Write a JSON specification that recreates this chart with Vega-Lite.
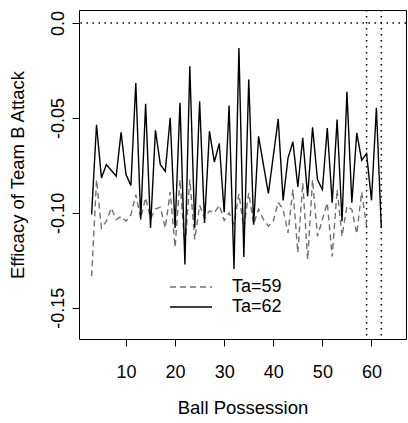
{
  "$schema": "https://vega.github.io/schema/vega-lite/v6.json",
  "width": 327,
  "height": 329,
  "autosize": {"type": "none"},
  "padding": {"left": 79, "top": 10, "right": 2, "bottom": 84},
  "background": "white",
  "config": {
    "view": {"stroke": "black", "strokeWidth": 1},
    "font": "Liberation Sans",
    "axis": {
      "domain": false, "grid": false, "tickColor": "black", "tickSize": 7, "tickWidth": 1,
      "labelFont": "Liberation Sans", "labelFontSize": 18, "labelColor": "black",
      "titleFont": "Liberation Sans", "titleFontSize": 18.5, "titleFontWeight": "normal", "titleColor": "black"
    }
  },
  "datasets": {
    "series": [
      {"x": 3, "y": -0.1334, "series": "Ta=59"}, {"x": 4, "y": -0.0825, "series": "Ta=59"}, {"x": 5, "y": -0.108, "series": "Ta=59"},
      {"x": 6, "y": -0.1044, "series": "Ta=59"}, {"x": 7, "y": -0.0974, "series": "Ta=59"}, {"x": 8, "y": -0.1035, "series": "Ta=59"},
      {"x": 9, "y": -0.1018, "series": "Ta=59"}, {"x": 10, "y": -0.1044, "series": "Ta=59"}, {"x": 11, "y": -0.101, "series": "Ta=59"},
      {"x": 12, "y": -0.0904, "series": "Ta=59"}, {"x": 13, "y": -0.103, "series": "Ta=59"}, {"x": 14, "y": -0.092, "series": "Ta=59"},
      {"x": 15, "y": -0.103, "series": "Ta=59"}, {"x": 16, "y": -0.098, "series": "Ta=59"}, {"x": 17, "y": -0.097, "series": "Ta=59"},
      {"x": 18, "y": -0.108, "series": "Ta=59"}, {"x": 19, "y": -0.089, "series": "Ta=59"}, {"x": 20, "y": -0.118, "series": "Ta=59"},
      {"x": 21, "y": -0.0825, "series": "Ta=59"}, {"x": 22, "y": -0.119, "series": "Ta=59"}, {"x": 23, "y": -0.0825, "series": "Ta=59"},
      {"x": 24, "y": -0.114, "series": "Ta=59"}, {"x": 25, "y": -0.096, "series": "Ta=59"}, {"x": 26, "y": -0.103, "series": "Ta=59"},
      {"x": 27, "y": -0.099, "series": "Ta=59"}, {"x": 28, "y": -0.1, "series": "Ta=59"}, {"x": 29, "y": -0.096, "series": "Ta=59"},
      {"x": 30, "y": -0.104, "series": "Ta=59"}, {"x": 31, "y": -0.1, "series": "Ta=59"}, {"x": 32, "y": -0.106, "series": "Ta=59"},
      {"x": 33, "y": -0.09, "series": "Ta=59"}, {"x": 34, "y": -0.108, "series": "Ta=59"}, {"x": 35, "y": -0.0895, "series": "Ta=59"},
      {"x": 36, "y": -0.106, "series": "Ta=59"}, {"x": 37, "y": -0.098, "series": "Ta=59"}, {"x": 38, "y": -0.1035, "series": "Ta=59"},
      {"x": 39, "y": -0.107, "series": "Ta=59"}, {"x": 40, "y": -0.1044, "series": "Ta=59"}, {"x": 41, "y": -0.0944, "series": "Ta=59"},
      {"x": 42, "y": -0.0982, "series": "Ta=59"}, {"x": 43, "y": -0.1105, "series": "Ta=59"}, {"x": 44, "y": -0.0877, "series": "Ta=59"},
      {"x": 45, "y": -0.121, "series": "Ta=59"}, {"x": 46, "y": -0.0842, "series": "Ta=59"}, {"x": 47, "y": -0.1246, "series": "Ta=59"},
      {"x": 48, "y": -0.0825, "series": "Ta=59"}, {"x": 49, "y": -0.1123, "series": "Ta=59"}, {"x": 50, "y": -0.1035, "series": "Ta=59"},
      {"x": 51, "y": -0.0947, "series": "Ta=59"}, {"x": 52, "y": -0.123, "series": "Ta=59"}, {"x": 53, "y": -0.0877, "series": "Ta=59"},
      {"x": 54, "y": -0.1123, "series": "Ta=59"}, {"x": 55, "y": -0.0965, "series": "Ta=59"}, {"x": 56, "y": -0.0982, "series": "Ta=59"},
      {"x": 57, "y": -0.111, "series": "Ta=59"}, {"x": 58, "y": -0.089, "series": "Ta=59"}, {"x": 59, "y": -0.107, "series": "Ta=59"},
      {"x": 3, "y": -0.1009, "series": "Ta=62"}, {"x": 4, "y": -0.0536, "series": "Ta=62"}, {"x": 5, "y": -0.0816, "series": "Ta=62"},
      {"x": 6, "y": -0.0746, "series": "Ta=62"}, {"x": 7, "y": -0.0776, "series": "Ta=62"}, {"x": 8, "y": -0.0807, "series": "Ta=62"},
      {"x": 9, "y": -0.0576, "series": "Ta=62"}, {"x": 10, "y": -0.0798, "series": "Ta=62"}, {"x": 11, "y": -0.0856, "series": "Ta=62"},
      {"x": 12, "y": -0.0316, "series": "Ta=62"}, {"x": 13, "y": -0.1035, "series": "Ta=62"}, {"x": 14, "y": -0.0426, "series": "Ta=62"},
      {"x": 15, "y": -0.108, "series": "Ta=62"}, {"x": 16, "y": -0.0565, "series": "Ta=62"}, {"x": 17, "y": -0.0746, "series": "Ta=62"},
      {"x": 18, "y": -0.0781, "series": "Ta=62"}, {"x": 19, "y": -0.05, "series": "Ta=62"}, {"x": 20, "y": -0.108, "series": "Ta=62"},
      {"x": 21, "y": -0.0421, "series": "Ta=62"}, {"x": 22, "y": -0.1272, "series": "Ta=62"}, {"x": 23, "y": -0.0228, "series": "Ta=62"},
      {"x": 24, "y": -0.1078, "series": "Ta=62"}, {"x": 25, "y": -0.0412, "series": "Ta=62"}, {"x": 26, "y": -0.1053, "series": "Ta=62"},
      {"x": 27, "y": -0.057, "series": "Ta=62"}, {"x": 28, "y": -0.0732, "series": "Ta=62"}, {"x": 29, "y": -0.0635, "series": "Ta=62"},
      {"x": 30, "y": -0.0997, "series": "Ta=62"}, {"x": 31, "y": -0.0435, "series": "Ta=62"}, {"x": 32, "y": -0.1295, "series": "Ta=62"},
      {"x": 33, "y": -0.0132, "series": "Ta=62"}, {"x": 34, "y": -0.1232, "series": "Ta=62"}, {"x": 35, "y": -0.0298, "series": "Ta=62"},
      {"x": 36, "y": -0.1062, "series": "Ta=62"}, {"x": 37, "y": -0.0597, "series": "Ta=62"}, {"x": 38, "y": -0.0747, "series": "Ta=62"},
      {"x": 39, "y": -0.0898, "series": "Ta=62"}, {"x": 40, "y": -0.0702, "series": "Ta=62"}, {"x": 41, "y": -0.0505, "series": "Ta=62"},
      {"x": 42, "y": -0.0934, "series": "Ta=62"}, {"x": 43, "y": -0.0711, "series": "Ta=62"}, {"x": 44, "y": -0.0626, "series": "Ta=62"},
      {"x": 45, "y": -0.0863, "series": "Ta=62"}, {"x": 46, "y": -0.0605, "series": "Ta=62"}, {"x": 47, "y": -0.0912, "series": "Ta=62"},
      {"x": 48, "y": -0.0549, "series": "Ta=62"}, {"x": 49, "y": -0.0825, "series": "Ta=62"}, {"x": 50, "y": -0.0877, "series": "Ta=62"},
      {"x": 51, "y": -0.0553, "series": "Ta=62"}, {"x": 52, "y": -0.0947, "series": "Ta=62"}, {"x": 53, "y": -0.0509, "series": "Ta=62"},
      {"x": 54, "y": -0.1044, "series": "Ta=62"}, {"x": 55, "y": -0.0363, "series": "Ta=62"}, {"x": 56, "y": -0.0947, "series": "Ta=62"},
      {"x": 57, "y": -0.0579, "series": "Ta=62"}, {"x": 58, "y": -0.0723, "series": "Ta=62"}, {"x": 59, "y": -0.0688, "series": "Ta=62"},
      {"x": 60, "y": -0.0934, "series": "Ta=62"}, {"x": 61, "y": -0.0447, "series": "Ta=62"}, {"x": 62, "y": -0.108, "series": "Ta=62"}
    ],
    "hlines": [{"y": 0}],
    "vlines": [{"x": 59}, {"x": 62}]
  },
  "layer": [
    {
      "data": {"name": "hlines"},
      "mark": {"type": "rule", "color": "black", "strokeWidth": 1.5, "strokeDash": [1.5, 4.5]},
      "encoding": {
        "y": {"field": "y", "type": "quantitative", "scale": {"domain": [-0.1664, 0.0068], "nice": false, "zero": false}}
      }
    },
    {
      "data": {"name": "vlines"},
      "mark": {"type": "rule", "color": "black", "strokeWidth": 1.5, "strokeDash": [1.5, 4.5]},
      "encoding": {
        "x": {"field": "x", "type": "quantitative", "scale": {"domain": [0.43, 67.03], "nice": false, "zero": false}}
      }
    },
    {
      "data": {"name": "series"},
      "mark": {"type": "line", "strokeWidth": 1.4},
      "encoding": {
        "x": {
          "field": "x", "type": "quantitative",
          "scale": {"domain": [0.43, 67.03], "nice": false, "zero": false},
          "axis": {"values": [10, 20, 30, 40, 50, 60], "title": "Ball Possession", "labelPadding": 17, "titleY": 74, "titleBaseline": "alphabetic"}
        },
        "y": {
          "field": "y", "type": "quantitative",
          "scale": {"domain": [-0.1664, 0.0068], "nice": false, "zero": false},
          "axis": {
            "values": [0, -0.05, -0.1, -0.15],
            "labelExpr": "datum.value == 0 ? '0.0' : '-' + format(abs(datum.value), '.2f')",
            "labelAngle": -90, "labelAlign": "center", "labelBaseline": "alphabetic", "labelPadding": 9,
            "title": "Efficacy of Team B Attack", "titleX": -56, "titleBaseline": "alphabetic", "titleAngle": -90
          }
        },
        "color": {
          "field": "series", "type": "nominal",
          "scale": {"domain": ["Ta=59", "Ta=62"], "range": ["#707070", "black"]},
          "legend": {
            "title": null, "orient": "none", "legendX": 101, "legendY": 266, "padding": 0,
            "symbolType": "M-2.1,0H2.1", "symbolSize": 400, "symbolStrokeWidth": 1.4,
            "labelFont": "Liberation Sans", "labelFontSize": 18, "labelColor": "black", "labelOffset": 30,
            "rowPadding": 0, "labelBaseline": "middle"
          }
        },
        "strokeDash": {
          "field": "series", "type": "nominal",
          "scale": {"domain": ["Ta=59", "Ta=62"], "range": [[6, 4], [1, 0]]},
          "legend": {
            "title": null, "orient": "none", "legendX": 101, "legendY": 266, "padding": 0,
            "symbolType": "M-2.1,0H2.1", "symbolSize": 400, "symbolStrokeWidth": 1.4,
            "labelFont": "Liberation Sans", "labelFontSize": 18, "labelColor": "black", "labelOffset": 30,
            "rowPadding": 0, "labelBaseline": "middle"
          }
        }
      }
    }
  ]
}
